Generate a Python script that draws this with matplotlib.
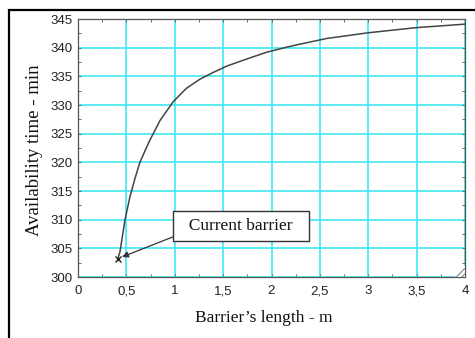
import matplotlib
matplotlib.use("Agg")
import matplotlib.pyplot as plt
import matplotlib.patches as mpatches
import numpy as np

# curve
barrier_len = [0.41, 0.434, 0.46, 0.486, 0.537, 0.589, 0.64, 0.70, 0.744,
               0.848, 0.985, 1.12, 1.26, 1.40, 1.54, 1.74, 1.95, 2.16, 2.29,
               2.57, 3.0, 3.5, 4.0]
avail_time = [303.1, 304.4, 307.2, 310.0, 314.0, 317.2, 320.0, 322.3, 323.9,
              327.3, 330.6, 332.9, 334.5, 335.7, 336.8, 338.0, 339.2, 340.1,
              340.6, 341.6, 342.6, 343.5, 344.1]

current_x, current_y = 0.41, 303.1

x_ticks = [0, 0.5, 1, 1.5, 2, 2.5, 3, 3.5, 4]
x_labels = ["0", "0,5", "1", "1,5", "2", "2,5", "3", "3,5", "4"]
y_ticks = [300, 305, 310, 315, 320, 325, 330, 335, 340, 345]

W, H = 475, 338
fig = plt.figure(figsize=(W / 100, H / 100), dpi=100)
fig.patch.set_facecolor("white")

# outer frame (cut at right and bottom like the screenshot)
frame = mpatches.Rectangle((8.5 / W, -0.05), 1.1, 1 - 9.5 / H + 0.05,
                           transform=fig.transFigure, fill=False,
                           edgecolor="black", linewidth=1.6, clip_on=False)
fig.patches.append(frame)

ax = fig.add_axes([78 / W, 1 - 277 / H, (465 - 78) / W, (277 - 19) / H])

ax.plot(barrier_len, avail_time, color="#444444", linewidth=1.1, zorder=3,
        solid_joinstyle="round")
ax.plot([current_x], [current_y], marker="x", color="#222222",
        markersize=5, markeredgewidth=1.0, linestyle="none", zorder=4)

ax.set_xlim(0, 4)
ax.set_ylim(300, 345)
ax.set_xticks(x_ticks)
ax.set_xticklabels(x_labels)
ax.set_yticks(y_ticks)
ax.set_xticks(np.arange(0, 4.01, 0.25), minor=True)
ax.set_yticks(np.arange(300, 345.1, 2.5), minor=True)

ax.grid(True, which="major", color="#3ee8f2", linewidth=1.2, zorder=1)
ax.set_axisbelow(True)
ax.tick_params(which="both", direction="in", top=True, right=True,
               length=2.5, width=0.7, color="#666666")
ax.tick_params(which="major", labelsize=9.5, labelcolor="#222222")
ax.tick_params(axis="x", which="major", pad=6)
ax.tick_params(axis="y", which="major", pad=4)
for lab in ax.get_xticklabels() + ax.get_yticklabels():
    lab.set_family("Liberation Sans")
for sp in ax.spines.values():
    sp.set_color("#555555")
    sp.set_linewidth(0.9)

# little resize grip in the lower right corner
grip = mpatches.Polygon([(1.0, 0.0), (1.0, 0.045), (0.974, 0.0)],
                        closed=True, transform=ax.transAxes,
                        facecolor="white", edgecolor="#999999",
                        hatch="//////", linewidth=0, zorder=5)
ax.add_patch(grip)

ax.annotate("  Current barrier  ", xy=(0.455, 303.5), xytext=(1.685, 308.9),
            ha="center", va="center", fontsize=12.5, family="Liberation Serif",
            color="#111111",
            bbox=dict(boxstyle="square,pad=0.4", facecolor="white",
                      edgecolor="#333333", linewidth=1.0),
            arrowprops=dict(arrowstyle="-|>", color="#333333", lw=0.9,
                            mutation_scale=9, shrinkA=0, shrinkB=0,
                            relpos=(0.0, 0.0)),
            zorder=6)

fig.text(35 / W, 1 - 150 / H, "Availability time - min", rotation=90,
         ha="center", va="center", fontsize=13.5, family="Liberation Serif",
         color="#111111")
fig.text(264 / W, 1 - 318 / H, "Barrier\u2019s length - m",
         ha="center", va="center", fontsize=12.5, family="Liberation Serif",
         color="#111111")

fig.savefig("out.png", dpi=100, facecolor="white")
